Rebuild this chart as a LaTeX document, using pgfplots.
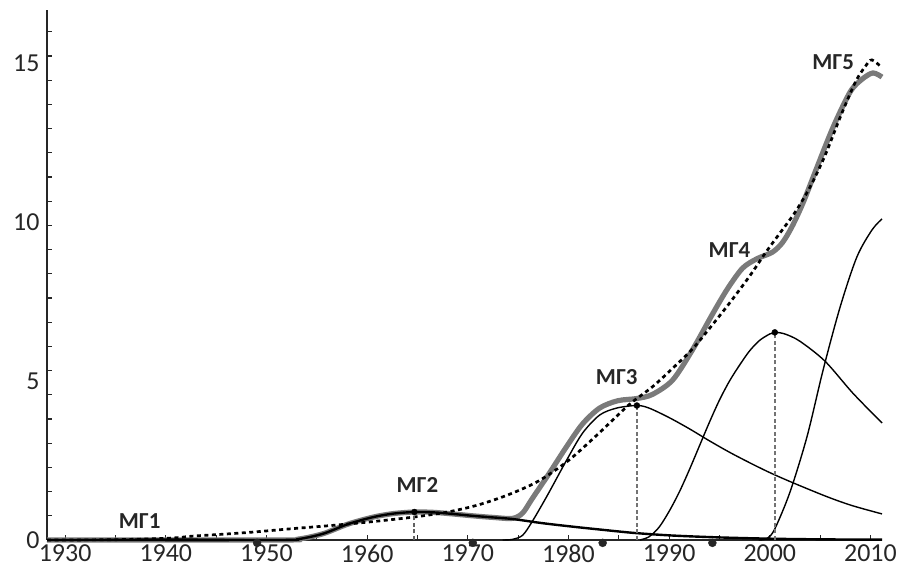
\documentclass[border=0pt]{standalone}
\usepackage{fontspec}
\setmainfont{Carlito}
\usepackage{pgfplots}
\pgfplotsset{compat=1.18}
\begin{document}
\begin{tikzpicture}[x=1bp,y=1bp]
\path[use as bounding box] (0,0) rectangle (898,568);
\begin{axis}[
  at={(47bp,28bp)}, anchor=south west,
  scale only axis, width=835bp, height=530bp,
  xmin=1928.2, xmax=2011.15, ymin=0, ymax=16.67,
  clip=false,
  axis x line*=bottom, axis y line*=left,
  axis line style={-, black!85, line width=1.8bp},
  tick align=inside,
  major tick length=5bp, minor tick length=5bp,
  tick style={black!85, line width=1.2bp},
  xtick={1930,1940,...,2010},
  minor xtick={1935,1945,...,2005},
  ytick={0,5,10,15},
  minor ytick={0,0.761,...,16.5},
  every major y tick/.append style={draw=none},
  tick label style={font=\fontsize{26}{30}\selectfont, text=black!85},
  yticklabel style={xshift=-4bp},
  xticklabel style={yshift=-1bp},
  /pgf/number format/1000 sep={},
  /pgf/number format/assume math mode=true,
]
% sum (thick gray)
\addplot[black!52, line width=5.2bp, smooth] coordinates {
(1928.2,0) (1950.8,0) (1953.2,0.03) (1955.65,0.2) (1958.1,0.5) (1960.6,0.72)
(1962.6,0.83) (1964.7,0.88) (1966.55,0.87) (1968.5,0.82) (1970.5,0.76)
(1972.5,0.71) (1974.45,0.68) (1975.45,0.85) (1976.4,1.3) (1978.1,2.1)
(1979.8,2.93) (1981.4,3.65) (1983.1,4.15) (1984.9,4.38) (1986.8,4.45)
(1988.35,4.58) (1990.35,5.03) (1992.3,5.97) (1994.3,7.1) (1995.8,7.9)
(1997.3,8.55) (1998.75,8.85) (2000.25,9.05) (2001.25,9.35) (2002.2,9.85)
(2003.3,10.6) (2004.7,11.73) (2006.3,12.99) (2008.0,14.1) (2009.2,14.5)
(2010.25,14.69) (2011.15,14.56)};
% MG1
\addplot[black, line width=1.4bp, smooth] coordinates {
(1928.2,0) (1935,0.02) (1940,0.03) (1945,0.02) (1950,0)};
% MG2
\addplot[black, line width=2.4bp, smooth] coordinates {
(1928.2,0) (1950.8,0) (1953.2,0.03) (1955.65,0.2) (1958.1,0.5) (1960.6,0.72)
(1962.6,0.83) (1964.7,0.88) (1966.55,0.87) (1968.5,0.82) (1970.5,0.76)
(1972.5,0.71) (1974.45,0.66) (1977.4,0.53) (1980.4,0.42) (1983.4,0.32)
(1986.6,0.22) (1990.35,0.14) (1995.1,0.08) (2000.25,0.04) (2005.2,0.02)
(2011.15,0.01)};
% MG3
\addplot[black, line width=1.4bp, smooth] coordinates {
(1973.45,0) (1974.45,0.02) (1975.45,0.15) (1976.4,0.58) (1977.9,1.4)
(1979.8,2.5) (1981.4,3.36) (1983.1,3.93) (1984.8,4.15) (1986.8,4.23)
(1988,4.15) (1990,3.85) (1992,3.5) (1994,3.12) (1996,2.76) (1998,2.43)
(2000,2.12) (2002.3,1.8) (2005.7,1.36) (2008.2,1.08) (2011.15,0.82)};
% MG4
\addplot[black, line width=1.4bp, smooth] coordinates {
(1987.1,0) (1988,0.1) (1989,0.4) (1990,0.9) (1991,1.5) (1992,2.2)
(1993,2.95) (1994,3.7) (1995,4.4) (1996,5.0) (1997,5.5) (1998,5.95)
(1999,6.28) (2000,6.48) (2000.5,6.53) (2001.5,6.48) (2003,6.25)
(2005.5,5.62) (2008.25,4.62) (2011.15,3.68)};
% MG5
\addplot[black, line width=1.4bp, smooth] coordinates {
(1998.9,0) (1999.75,0.05) (2000.5,0.35) (2002.0,1.5) (2003.7,3.25)
(2005.3,5.35) (2007.0,7.34) (2008.65,8.9) (2010.15,9.75) (2011.15,10.1)};
% trend (dotted)
\addplot[black, line width=2.7bp, dash pattern=on 4bp off 3.5bp, smooth] coordinates {
(1928.2,0) (1935,0.01) (1940.5,0.06) (1942.6,0.12) (1945.6,0.18)
(1948.7,0.25) (1952.7,0.36) (1956.6,0.46) (1960.6,0.58) (1964.6,0.72)
(1968,0.88) (1971,1.1) (1974,1.42) (1977,1.85) (1980,2.5) (1983,3.35)
(1986,4.25) (1988.35,4.82) (1990.35,5.4) (1992.3,6.0) (1994,6.65)
(1996,7.45) (1998,8.3) (1999.5,9.0) (2001,9.65) (2002.5,10.3)
(2004,11.1) (2005.5,12.1) (2007,13.3) (2008.5,14.4) (2009.5,14.9)
(2010.15,15.1) (2011.15,14.85)};
% dashed verticals
\addplot[black!62, line width=2.1bp, dash pattern=on 4bp off 2.5bp] coordinates {(1964.7,0) (1964.7,0.88)};
\addplot[black!55, line width=2.1bp, dash pattern=on 4bp off 2.5bp] coordinates {(1986.8,0) (1986.8,4.23)};
\addplot[black!55, line width=2.1bp, dash pattern=on 4bp off 2.5bp] coordinates {(2000.5,0) (2000.5,6.53)};
% dots
\addplot[only marks, mark=*, mark size=3bp, black] coordinates {(1964.7,0.88) (1986.8,4.23) (2000.5,6.53)};
\addplot[only marks, mark=*, mark size=4bp, black!85] coordinates {(1949.07,-0.09) (1970.5,-0.09) (1983.4,-0.09) (1994.3,-0.09)};
% labels
\node[font=\fontsize{23}{27}\selectfont\bfseries, text=black!85] at (axis cs:1937.4,0.58) {МГ1};
\node[font=\fontsize{23}{27}\selectfont\bfseries, text=black!85] at (axis cs:1965.0,1.73) {МГ2};
\node[font=\fontsize{23}{27}\selectfont\bfseries, text=black!85] at (axis cs:1984.8,5.13) {МГ3};
\node[font=\fontsize{23}{27}\selectfont\bfseries, text=black!85] at (axis cs:1996.0,9.12) {МГ4};
\node[font=\fontsize{23}{27}\selectfont\bfseries, text=black!85] at (axis cs:2006.3,15.03) {МГ5};
\end{axis}
\end{tikzpicture}
\end{document}
